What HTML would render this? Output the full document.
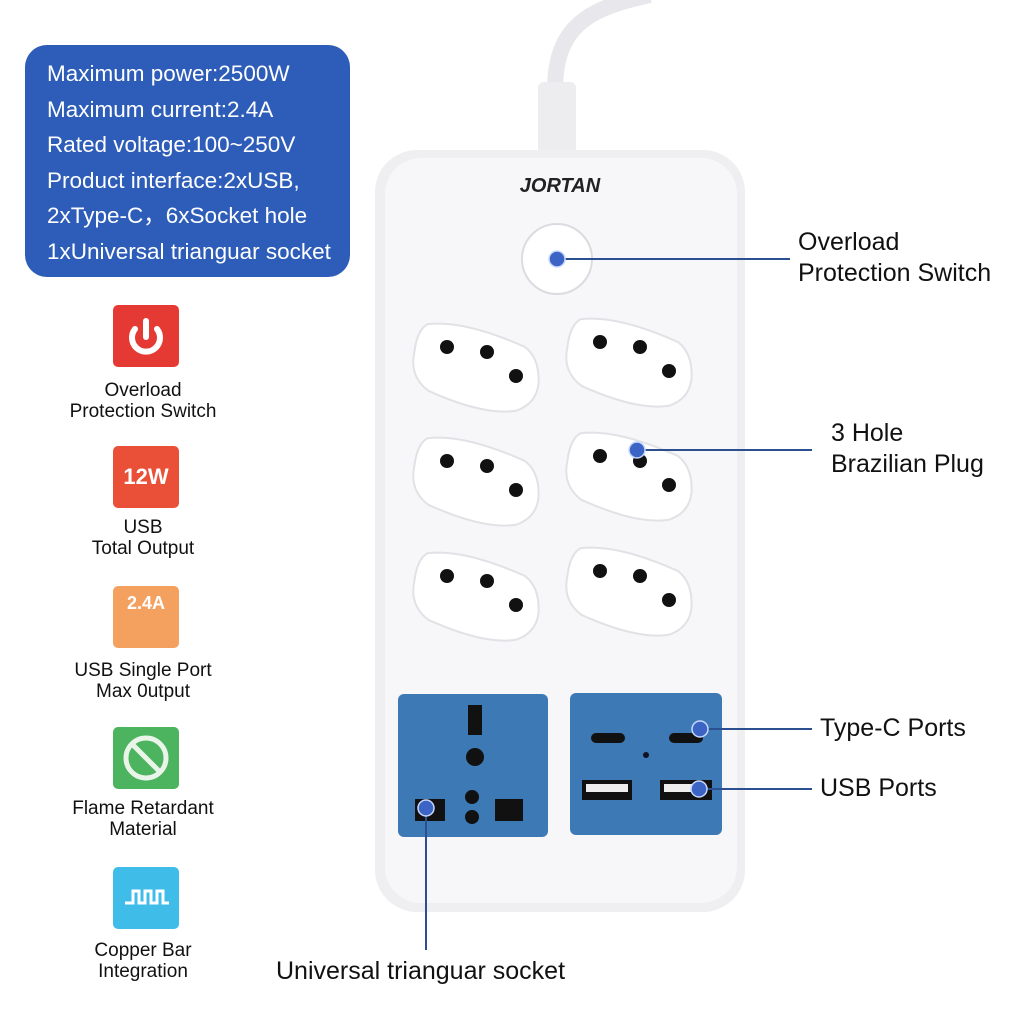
<!DOCTYPE html>
<html><head><meta charset="utf-8"><style>
body{margin:0;width:1024px;height:1024px;background:#fff;position:relative;overflow:hidden;font-family:"Liberation Sans",sans-serif;}
.spec{position:absolute;left:25px;top:45px;width:325px;height:232px;background:#2d5db8;border-radius:22px;color:#fff;font-size:22.5px;line-height:35.5px;padding:11px 0 0 22px;box-sizing:border-box;white-space:nowrap;}
.lbl{position:absolute;color:#111;font-size:25px;line-height:31px;}
.ic{position:absolute;left:113px;width:66px;height:62px;border-radius:5px;}
.it{position:absolute;width:180px;left:53px;text-align:center;font-size:19px;line-height:21px;color:#111;}
</style></head><body>
<div class="spec">Maximum power:2500W<br>Maximum current:2.4A<br>Rated voltage:100~250V<br>Product interface:2xUSB,<br>2xType-C，6xSocket hole<br>1xUniversal trianguar socket</div>

<div class="ic" style="top:305px;background:#e53a34"><svg width="66" height="62"><path d="M22 24a14 14 0 1 0 22 0" fill="none" stroke="#fff" stroke-width="6" stroke-linecap="round"/><line x1="33" y1="16" x2="33" y2="32" stroke="#fff" stroke-width="6" stroke-linecap="round"/></svg></div>
<div class="it" style="top:380px">Overload<br>Protection Switch</div>
<div class="ic" style="top:446px;background:#ea4f38;color:#fff;font-weight:bold;font-size:22px;text-align:center;line-height:62px">12W</div>
<div class="it" style="top:517px">USB<br>Total Output</div>
<div class="ic" style="top:586px;background:#f4a160;color:#fff;font-weight:bold;font-size:18px;text-align:center;line-height:34px">2.4A</div>
<div class="it" style="top:660px">USB Single Port<br>Max 0utput</div>
<div class="ic" style="top:727px;background:#4cb35e"><svg width="66" height="62"><circle cx="33" cy="31" r="20" fill="none" stroke="#e8f5e8" stroke-width="5"/><line x1="19" y1="17" x2="47" y2="45" stroke="#e8f5e8" stroke-width="5"/></svg></div>
<div class="it" style="top:798px">Flame Retardant<br>Material</div>
<div class="ic" style="top:867px;background:#3fbde8"><svg width="66" height="62"><path d="M12 36h8v-12h6v12h6v-12h6v12h6v-12h6v12h6" fill="none" stroke="#fff" stroke-width="3"/></svg></div>
<div class="it" style="top:940px">Copper Bar<br>Integration</div>

<svg style="position:absolute;left:0;top:0" width="1024" height="1024">
<defs>
<g id="s" transform="rotate(12)">
<path d="M-55 -30 Q-20 -42 45 -28 Q62 -20 66 5 Q68 25 50 36 Q20 48 -40 35 Q-62 25 -62 0 Q-64 -22 -55 -30Z" fill="#fff" stroke="#e2e2e6" stroke-width="2"/>
</g>
<g id="h">
<circle cx="-28" cy="-18" r="7" fill="#111"/><circle cx="12" cy="-13" r="7" fill="#111"/><circle cx="41" cy="11" r="7" fill="#111"/>
</g>
</defs>
<path d="M555 90 C555 25 590 8 650 -5" fill="none" stroke="#e8e8ec" stroke-width="16"/>
<rect x="538" y="82" width="38" height="72" rx="6" fill="#ededf0"/>
<rect x="375" y="150" width="370" height="762" rx="42" fill="#efeff2"/>
<rect x="385" y="158" width="352" height="745" rx="36" fill="#f7f7f9"/>
<text x="560" y="192" text-anchor="middle" font-family="Liberation Sans" font-weight="bold" font-style="italic" font-size="20" fill="#222">JORTAN</text>
<circle cx="557" cy="259" r="35" fill="#fff" stroke="#dcdce0" stroke-width="2"/>
<use href="#s" x="475" y="365"/><use href="#s" x="628" y="360"/>
<use href="#s" x="475" y="479"/><use href="#s" x="628" y="474"/>
<use href="#s" x="475" y="594"/><use href="#s" x="628" y="589"/>
<use href="#h" x="475" y="365"/><use href="#h" x="628" y="360"/>
<use href="#h" x="475" y="479"/><use href="#h" x="628" y="474"/>
<use href="#h" x="475" y="594"/><use href="#h" x="628" y="589"/>
<rect x="398" y="694" width="150" height="143" rx="6" fill="#3d7ab5"/>
<rect x="570" y="693" width="152" height="142" rx="6" fill="#3d7ab5"/>
<path d="M468 705h14v30h-14z" fill="#111"/><circle cx="475" cy="757" r="9" fill="#111"/>
<circle cx="472" cy="797" r="7" fill="#111"/><circle cx="472" cy="817" r="7" fill="#111"/>
<path d="M415 799h30v22h-30z" fill="#111"/><path d="M495 799h28v22h-28z" fill="#111"/>
<rect x="591" y="733" width="34" height="10" rx="5" fill="#111"/><rect x="669" y="733" width="34" height="10" rx="5" fill="#111"/>
<circle cx="646" cy="755" r="3" fill="#112"/>
<rect x="582" y="780" width="50" height="20" fill="#111"/><rect x="586" y="784" width="42" height="8" fill="#eee"/>
<rect x="660" y="780" width="52" height="20" fill="#111"/><rect x="664" y="784" width="42" height="8" fill="#eee"/>
<g stroke="#2c4f8f" stroke-width="2">
<line x1="557" y1="259" x2="790" y2="259"/>
<line x1="637" y1="450" x2="812" y2="450"/>
<line x1="700" y1="729" x2="812" y2="729"/>
<line x1="700" y1="789" x2="812" y2="789"/>
<line x1="426" y1="808" x2="426" y2="950"/>
</g>
<g fill="#3c64c4" stroke="#c8d8ff" stroke-width="1.5">
<circle cx="557" cy="259" r="8"/><circle cx="637" cy="450" r="8"/><circle cx="700" cy="729" r="8"/><circle cx="699" cy="789" r="8"/><circle cx="426" cy="808" r="8"/>
</g>
</svg>
<div class="lbl" style="left:798px;top:227px">Overload<br>Protection Switch</div>
<div class="lbl" style="left:831px;top:418px">3 Hole<br>Brazilian Plug</div>
<div class="lbl" style="left:820px;top:713px">Type-C Ports</div>
<div class="lbl" style="left:820px;top:773px">USB Ports</div>
<div class="lbl" style="left:276px;top:956px">Universal trianguar socket</div>
</body></html>
